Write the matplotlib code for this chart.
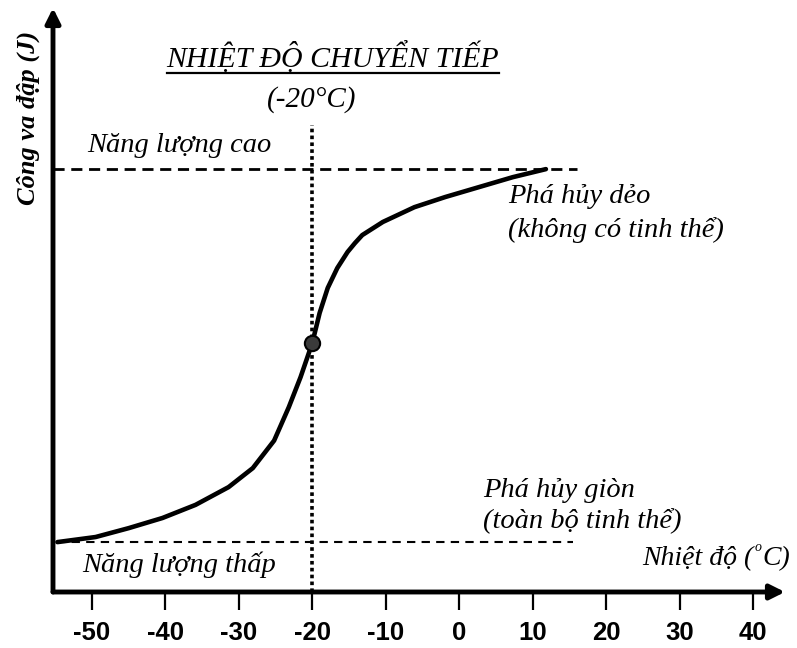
#!/usr/bin/env python3
# -*- coding: utf-8 -*-
"""
Đường cong chuyển tiếp dẻo - giòn (công va đập theo nhiệt độ)
"""

import numpy as np
import matplotlib
matplotlib.use('Agg')
import matplotlib.pyplot as plt
from matplotlib.lines import Line2D

# dữ liệu
nhiet_do = [-54.7, -49.5, -45.0, -40.4, -35.9, -31.4, -28.1, -25.2, -23.2, -21.6, -20.0,
            -19.0, -17.9, -16.6, -15.2, -14.2, -13.2, -10.4, -6.1, -1.9, 2.6, 7.3, 11.8]
cong_va_dap = [11.8, 13.0, 15.1, 17.5, 20.6, 24.8, 29.3, 35.8, 43.7, 50.8, 58.9,
               66.0, 71.9, 76.6, 80.4, 82.5, 84.4, 87.5, 91.0, 93.4, 95.7, 98.1, 100.0]
x_ticks = [-50, -40, -30, -20, -10, 0, 10, 20, 30, 40]
t_chuyen_tiep = -20
e_cao = 100.0
e_thap = 11.8

SERIF = ['Liberation Serif', 'DejaVu Serif']

fig = plt.figure(figsize=(7.97, 6.48), dpi=100)
W, H = 797, 648
ax = fig.add_axes([53 / W, 56 / H, (785 - 53) / W, (640 - 56) / H])
ax.set_xlim(-55.3, 44.35)
ax.set_ylim(0, 138.1)
ax.patch.set_alpha(0)
for s in ax.spines.values():
    s.set_visible(False)

# trục có mũi tên
arrow = dict(arrowstyle='-|>', lw=3.5, color='black', mutation_scale=22,
             shrinkA=0, shrinkB=0)
ax.annotate('', xy=(1, 0), xytext=(0, 0), xycoords='axes fraction', arrowprops=arrow)
ax.annotate('', xy=(0, 1), xytext=(0, 0), xycoords='axes fraction', arrowprops=arrow)

# các đường tham chiếu
ax.plot([-55.3, 16.0], [e_cao, e_cao], color='black', lw=2.0,
        linestyle=(0, (4, 2.4)), solid_capstyle='butt')
ax.plot([nhiet_do[0], 15.5], [e_thap, e_thap], color='black', lw=1.5,
        linestyle=(0, (4, 3)))
ax.plot([t_chuyen_tiep, t_chuyen_tiep], [0, 110.4], color='black', lw=2.6,
        linestyle=(0, (1, 0.9)), dash_capstyle='butt')

# đường cong
ax.plot(nhiet_do, cong_va_dap, color='black', lw=3.3, solid_capstyle='round',
        solid_joinstyle='round')
ax.plot([t_chuyen_tiep], [cong_va_dap[nhiet_do.index(t_chuyen_tiep)]], 'o',
        ms=11, mfc='#3a3a3a', mec='black', mew=1.5)

ax.set_xticks(x_ticks)
ax.set_xticklabels([str(t) for t in x_ticks])
ax.set_yticks([])
ax.tick_params(axis='x', direction='out', length=13, width=1.6, pad=8)
for lb in ax.get_xticklabels():
    lb.set_fontfamily(['Liberation Sans', 'DejaVu Sans'])
    lb.set_fontweight('bold')
    lb.set_fontsize(18.5)

# chữ
def px(x, y):
    return x / W, 1 - y / H

kieu = dict(family=SERIF, style='italic', va='baseline')
tieu_de = fig.text(*px(333, 67), 'NHIỆT ĐỘ CHUYỂN TIẾP', fontsize=21.5, ha='center', **kieu)
fig.text(*px(312, 107), '(-20°C)', fontsize=21, ha='center', **kieu)
fig.text(*px(87, 152), 'Năng lượng cao', fontsize=20.5, ha='left', **kieu)
fig.text(*px(508, 203), 'Phá hủy dẻo', fontsize=20.5, ha='left', **kieu)
fig.text(*px(508, 237), '(không có tinh thể)', fontsize=20.5, ha='left', **kieu)
fig.text(*px(483, 497), 'Phá hủy giòn', fontsize=20.5, ha='left', **kieu)
fig.text(*px(483, 528), '(toàn bộ tinh thể)', fontsize=20.5, ha='left', **kieu)
fig.text(*px(82, 572), 'Năng lượng thấp', fontsize=20.5, ha='left', **kieu)
fig.text(*px(28, 118), 'Công va đập (J)', family=SERIF, style='italic', weight='bold',
         fontsize=19, rotation=90, ha='center', va='center')

# nhãn trục x với chữ "o" nhỏ viết trên
phan_c = fig.text(*px(790, 565), 'C)', fontsize=20, ha='right', **kieu)
fig.canvas.draw()
bc = phan_c.get_window_extent()
phan_o = fig.text(bc.x0 / W - 0.001, 1 - 551 / H, 'o', fontsize=10, ha='right', **kieu)
fig.canvas.draw()
bo = phan_o.get_window_extent()
fig.text(bo.x0 / W - 0.001, 1 - 565 / H, 'Nhiệt độ (', fontsize=20, ha='right', **kieu)

# gạch chân tiêu đề
bb = tieu_de.get_window_extent()
fig.add_artist(Line2D([bb.x0 / W, bb.x1 / W], [1 - 73 / H, 1 - 73 / H],
                      transform=fig.transFigure, color='black', lw=1.6))

fig.savefig('out.png', dpi=100)
